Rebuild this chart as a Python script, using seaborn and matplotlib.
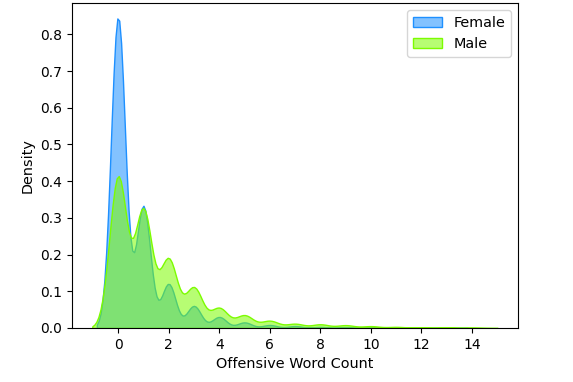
import numpy as np
import pandas as pd
import matplotlib
matplotlib.use('Agg')
import matplotlib.pyplot as plt
import seaborn as sns

# number of comments with 0..14 offensive words, per gender
word_counts = list(range(15))
female_comments = [1779, 696, 252, 126, 63, 32, 17, 11, 6, 4, 2, 2, 1, 1, 0]
male_comments = [1074, 837, 486, 285, 141, 90, 51, 30, 26, 20, 13, 8, 5, 5, 3]

genders = ['Female', 'Male']
colors = {'Female': '#1E90FF', 'Male': '#7CFC00'}
bandwidths = {'Female': 0.28, 'Male': 0.34}

df = pd.concat([
    pd.DataFrame({'gender': 'Female', 'count': np.repeat(word_counts, female_comments)}),
    pd.DataFrame({'gender': 'Male', 'count': np.repeat(word_counts, male_comments)}),
], ignore_index=True)

fig = plt.figure(figsize=(5.73, 3.82), dpi=100)
ax = fig.add_axes([0.1257, 0.1414, 0.7784, 0.8508])

for g in genders:
    obs = df.loc[df['gender'] == g, 'count']
    sns.kdeplot(x=obs, fill=True, alpha=0.55, color=colors[g],
                bw_method=bandwidths[g] / obs.std(), linewidth=1,
                label=g, ax=ax)

ax.set_xlabel('Offensive Word Count', fontsize=10.4)
ax.set_ylabel('Density', fontsize=10.4)
ax.legend(loc='upper right', fontsize=10.4)

fig.savefig('out.png', dpi=100)
